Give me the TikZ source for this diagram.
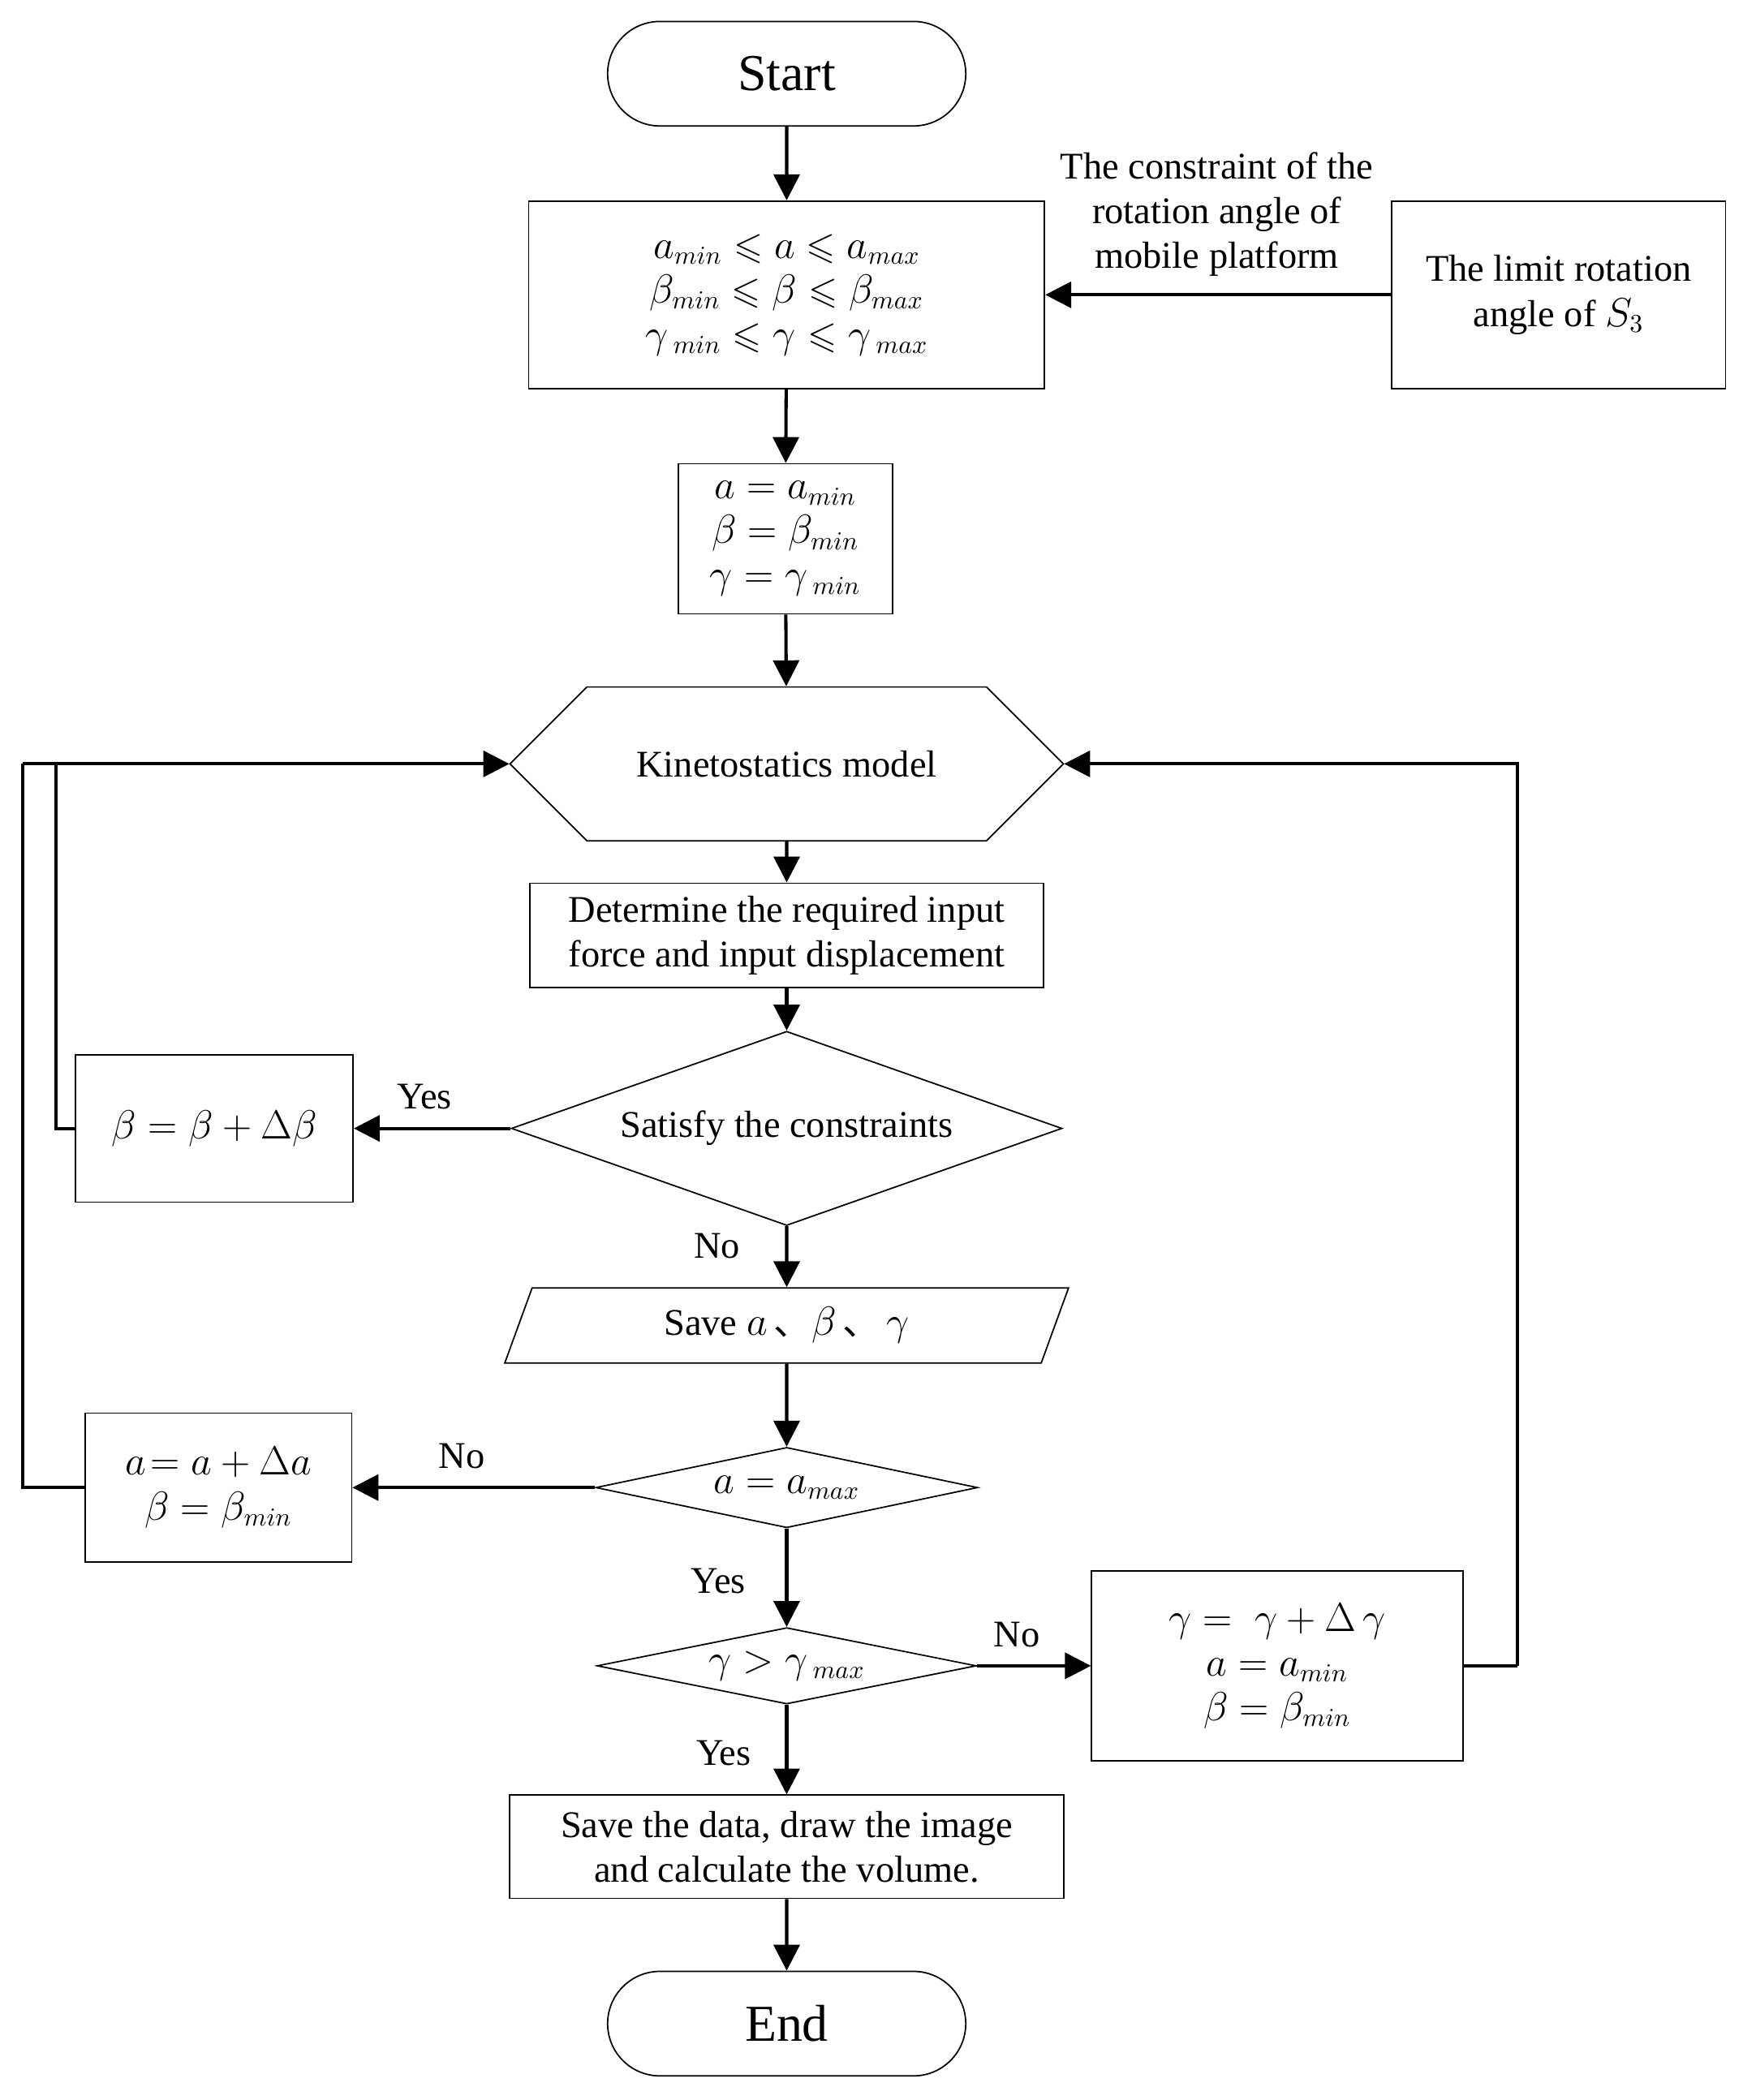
\documentclass[tikz,border=0pt]{standalone}
\usepackage{amsmath, amssymb}
\usepackage{fontspec}
\setmainfont{Liberation Serif}
\newfontfamily\cjk{Noto Sans CJK SC}
\usetikzlibrary{arrows.meta, shapes.geometric, shapes.misc}

\tikzset{
  box/.style = {draw, semithick, align=center, inner sep=2pt},
  term/.style = {draw, semithick, rounded rectangle, minimum width=5.58cm, minimum height=1.56cm, font=\fontsize{22}{26}\selectfont},
  dec/.style = {draw, semithick, diamond, inner sep=0pt},
  flow/.style = {line width=1.4pt, -{Triangle[length=11pt, width=11pt]}},
  link/.style = {line width=1.4pt},
  lab/.style = {font=\fontsize{16}{19}\selectfont}
}

\begin{document}
\begin{tikzpicture}[x=0.02cm, y=-0.02cm, font=\fontsize{16}{19}\selectfont]
  \useasboundingbox (0,0) rectangle (1300,1567);

  \node (start) at (587,55) [term] {Start};
  \node (cons) at (587,220) [box, minimum width=7.7cm, minimum height=2.8cm]
    {$a_{min}\leqslant a\leqslant a_{max}$\\ $\beta_{min}\leqslant\beta\leqslant\beta_{max}$\\ $\gamma_{\;min}\leqslant\gamma\leqslant\gamma_{\;max}$};
  \node (limit) at (1163,220) [box, minimum width=4.98cm, minimum height=2.8cm]
    {The limit rotation\\ angle of $S_3$};
  \node (ctxt) at (908,160) [align=center] {The constraint of the\\ rotation angle of\\ mobile platform};
  \node (init) at (586,402) [box, minimum width=3.2cm, minimum height=2.24cm]
    {$a=a_{min}$\\ $\beta=\beta_{min}$\\ $\gamma=\gamma_{\;min}$};
  \node (kin) at (587,570) [draw, semithick, chamfered rectangle, chamfered rectangle xsep=1.6cm, chamfered rectangle ysep=0.95cm, minimum width=8.26cm, minimum height=1.9cm, inner sep=0pt]
    {Kinetostatics model};
  \node (force) at (587,698) [box, minimum width=7.66cm, minimum height=1.56cm]
    {Determine the required input\\ force and input displacement};
  \node (sat) at (587,842) [dec, minimum width=8.22cm, minimum height=2.9cm, aspect=2.83]
    {Satisfy the constraints};
  \node (incb) at (160,842) [box, minimum width=4.14cm, minimum height=2.2cm]
    {$\beta=\beta+\Delta\beta$};
  \node (save) at (587,989) [draw, semithick, trapezium, trapezium left angle=70, trapezium right angle=110, minimum width=5.8cm, minimum height=1.12cm, inner sep=0pt]
    {Save $a$\,{\cjk 、}$\beta$\,{\cjk 、}\,$\gamma$};
  \node (amax) at (587,1110) [dec, minimum width=5.7cm, minimum height=1.2cm, aspect=4.75]
    {$a=a_{max}$};
  \node (inca) at (163,1110) [box, minimum width=3.98cm, minimum height=2.22cm]
    {$a\!=a+\Delta a$\\ $\beta=\beta_{min}$};
  \node (gmax) at (587,1243) [dec, minimum width=5.66cm, minimum height=1.14cm, aspect=4.96]
    {$\gamma>\gamma_{\;max}$};
  \node (incg) at (953,1243) [box, minimum width=5.54cm, minimum height=2.84cm]
    {$\gamma=\;\gamma+\Delta\,\gamma$\\ $a=a_{min}$\\ $\beta=\beta_{min}$};
  \node (data) at (587,1378) [box, minimum width=8.28cm, minimum height=1.54cm]
    {Save the data, draw the image\\ and calculate the volume.};
  \node (end) at (587,1510) [term] {End};

  \coordinate (lb) at (42,842);
  \coordinate (la) at (17,1110);
  \coordinate (rg) at (1132,1243);

  \draw [flow] (start) -- (cons);
  \draw [flow] (limit) -- (cons);
  \draw [flow] (cons) -- (init);
  \draw [flow] (init) -- (kin);
  \draw [flow] (kin) -- (force);
  \draw [flow] (force) -- (sat.north);
  \draw [flow] (sat) -- node [lab, above=4pt, pos=0.55] {Yes} (incb);
  \draw [flow] (sat.south) -- (save);
  \draw [flow] (save) -- (amax.north);
  \draw [flow] (amax) -- node [lab, above=4pt, pos=0.55] {No} (inca);
  \draw [flow] (amax.south) -- (gmax.north);
  \draw [flow] (gmax) -- node [lab, above=4pt, pos=0.35] {No} (incg);
  \draw [flow] (gmax.south) -- (data);
  \draw [flow] (data) -- (end);

  \draw [link] (incb.west) -- (lb) -- (lb |- kin.west);
  \draw [flow] (la |- kin.west) -- (kin.west);
  \draw [link] (inca.west) -- (la) -- (la |- kin.west);
  \draw [link] (incg.east) -- (rg);
  \draw [flow] (rg) -- (rg |- kin.east) -- (kin.east);

  \node [lab] at (535,930) {No};
  \node [lab] at (536,1180) {Yes};
  \node [lab] at (540,1308) {Yes};
\end{tikzpicture}
\end{document}
